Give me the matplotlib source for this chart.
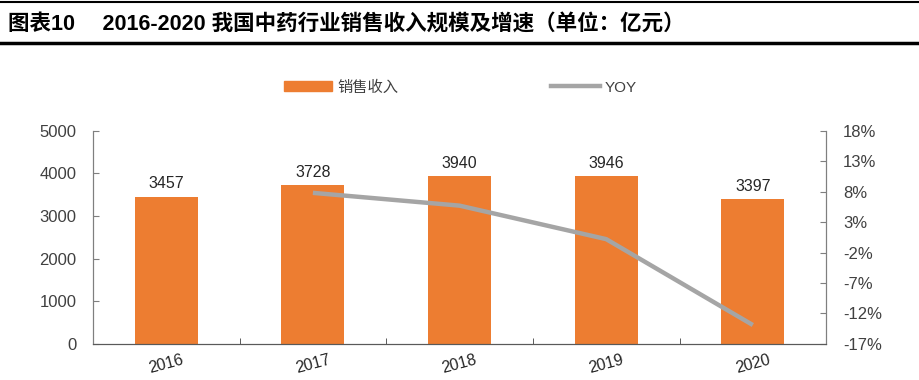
import numpy as np
import matplotlib.pyplot as plt
from matplotlib.lines import Line2D
from matplotlib.patches import Patch

plt.rcParams['font.family'] = ['Liberation Sans', 'Noto Sans CJK SC']

# 数据
years = ['2016', '2017', '2018', '2019', '2020']
sales = [3457, 3728, 3940, 3946, 3397]
yoy_years = ['2017', '2018', '2019', '2020']
yoy = [7.8, 5.7, 0.2, -13.9]
yoy_ticks = [-17, -12, -7, -2, 3, 8, 13, 18]

bar_color = '#ED7D31'
line_color = '#A5A5A5'
axis_color = '#7F7F7F'
text_color = '#404040'

fig = plt.figure(figsize=(9.2, 3.8), dpi=100)
ax = fig.add_axes([0.101, 0.095, 0.797, 0.561])
ax2 = ax.twinx()

x = np.arange(len(years))
ax.bar(x, sales, width=0.43, color=bar_color, zorder=2)
for xi, v in zip(x, sales):
    ax.text(xi, v + 120, f'{v}', ha='center', va='bottom', fontsize=11.5, color='#262626')

xi_yoy = [years.index(y) for y in yoy_years]
ax2.plot(xi_yoy, yoy, color=line_color, linewidth=3.2, solid_capstyle='butt', zorder=3)

# 左轴
ax.set_xlim(-0.5, len(years) - 0.5)
ax.set_ylim(0, 5000)
ax.set_yticks(range(0, 5001, 1000))
ax.tick_params(axis='y', direction='in', length=4, color=axis_color,
               labelsize=12, labelcolor=text_color, pad=12)

# x轴：刻度在类别之间
ax.set_xticks(x)
ax.set_xticklabels(years, rotation=15, fontsize=11.5, color='#262626')
ax.tick_params(axis='x', which='major', length=0, pad=6)
ax.set_xticks(np.arange(0.5, len(years) - 1, 1.0), minor=True)
ax.tick_params(axis='x', which='minor', direction='in', length=4, color='#404040')

# 右轴
ax2.set_ylim(-17, 18)
ax2.set_yticks(yoy_ticks)
ax2.set_yticklabels([f'{t}%' for t in yoy_ticks])
ax2.tick_params(axis='y', direction='in', length=4, color=axis_color,
                labelsize=12, labelcolor=text_color, pad=12)

for a in (ax, ax2):
    a.spines['top'].set_visible(False)
    a.spines['left'].set_color(axis_color)
    a.spines['right'].set_color(axis_color)
    a.spines['bottom'].set_color('#595959')

# 图例
handles = [Patch(color=bar_color), Line2D([0], [0], color=line_color, linewidth=3.2)]
fig.legend(handles, ['销售收入', 'YOY'], loc='center', bbox_to_anchor=(0.5, 0.77),
           ncol=2, frameon=False, fontsize=11, handlelength=3.2, handleheight=0.6,
           columnspacing=10, handletextpad=0.3, labelcolor=text_color)

# 标题与横线
fig.text(0.009, 0.935, '图表10　 2016-2020 我国中药行业销售收入规模及增速（单位：亿元）',
         fontsize=15.5, fontweight='bold', va='center', ha='left', color='black')
fig.add_artist(Line2D([0, 1], [0.995, 0.995], color='black', linewidth=1.5,
                      transform=fig.transFigure))
fig.add_artist(Line2D([0, 1], [0.888, 0.888], color='black', linewidth=2.5,
                      transform=fig.transFigure))

plt.savefig('out.png', dpi=100)
